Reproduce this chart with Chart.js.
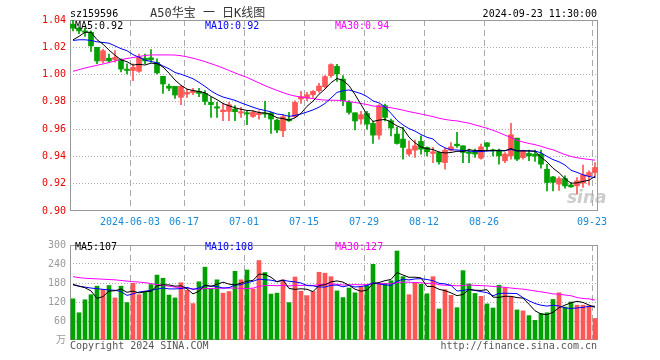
<!DOCTYPE html>
<html><head><meta charset="utf-8">
<script src="https://cdn.jsdelivr.net/npm/chart.js@4.4.1/dist/chart.umd.min.js"></script>
<style>
html,body{margin:0;padding:0;background:#fff;}
#wrap{position:relative;width:660px;height:360px;overflow:hidden;font-family:"DejaVu Sans Mono",monospace;font-size:10px;}
canvas{position:absolute;left:0;}
#c1{top:0;}
#c2{top:235px;}
.t{position:absolute;white-space:pre;line-height:12px;}
</style></head>
<body><div id="wrap">
<canvas id="c1" width="660" height="235"></canvas>
<canvas id="c2" width="660" height="125"></canvas>
<div class="t" style="left:70px;top:8px;color:#000">sz159596</div>
<div class="t" style="left:150px;top:6px;color:#333;font-size:12px;line-height:14px;font-family:'DejaVu Sans Mono','Noto Sans CJK SC',monospace">A50华宝 一 日K线图</div>
<div class="t" style="right:63px;top:8px;color:#000">2024-09-23 11:30:00</div>
<div class="t" style="left:75px;top:20px;color:#000">MA5:0.92</div>
<div class="t" style="left:205px;top:20px;color:#0000ff">MA10:0.92</div>
<div class="t" style="left:335px;top:20px;color:#ff00ff">MA30:0.94</div>
<div class="t" style="left:75px;top:241px;color:#000">MA5:107</div>
<div class="t" style="left:205px;top:241px;color:#0000ff">MA10:108</div>
<div class="t" style="left:335px;top:241px;color:#ff00ff">MA30:127</div>
<div class="t" style="left:567px;top:188px;color:rgba(170,170,170,0.6);font:italic bold 17px 'DejaVu Sans',sans-serif;line-height:18px">sina</div>
<div class="t" style="left:70px;top:340px;color:#555">Copyright 2024 SINA.COM</div>
<div class="t" style="right:63px;top:340px;color:#555">http://finance.sina.com.cn</div>
</div>
<script>
const dates = ['05-20','05-21','05-22','05-23','05-24','05-27','05-28','05-29','05-30','05-31',
'06-03','06-04','06-05','06-06','06-07','06-11','06-12','06-13','06-14','06-17',
'06-18','06-19','06-20','06-21','06-24','06-25','06-26','06-27','06-28','07-01',
'07-02','07-03','07-04','07-05','07-08','07-09','07-10','07-11','07-12','07-15',
'07-16','07-17','07-18','07-19','07-22','07-23','07-24','07-25','07-26','07-29',
'07-30','07-31','08-01','08-02','08-05','08-06','08-07','08-08','08-09','08-12',
'08-13','08-14','08-15','08-16','08-19','08-20','08-21','08-22','08-23','08-26',
'08-27','08-28','08-29','08-30','09-02','09-03','09-04','09-05','09-06','09-09',
'09-10','09-11','09-12','09-13','09-18','09-19','09-20','09-23'];

const tickDates = ['06-03','06-17','07-01','07-15','07-29','08-12','08-26','09-23'];
const tickText  = ['2024-06-03','06-17','07-01','07-15','07-29','08-12','08-26','09-23'];

const open = [1.037,1.034,1.032,1.031,1.020,1.010,1.012,1.011,1.011,1.004,
1.003,1.0024,1.012,1.0123,1.009,0.9987,0.9915,0.9914,0.9833,0.9857,
0.9867,0.9877,0.9862,0.9796,0.9764,0.9728,0.973,0.9747,0.9718,0.972,
0.9693,0.9706,0.9718,0.9718,0.9666,0.9588,0.9674,0.9691,0.9821,0.9828,
0.9852,0.9882,0.9911,0.9992,1.006,0.9967,0.9796,0.972,0.9674,0.9715,
0.9642,0.9556,0.9772,0.9662,0.9564,0.9527,0.9417,0.9446,0.951,0.9466,
0.9422,0.9429,0.9355,0.9446,0.949,0.9478,0.9434,0.9436,0.9387,0.950,
0.9446,0.9446,0.9368,0.9404,0.9534,0.9392,0.9422,0.9417,0.9417,0.9306,
0.925,0.9197,0.9238,0.9191,0.9184,0.9204,0.9257,0.9282];

const high = [1.040,1.035,1.034,1.032,1.020,1.0185,1.015,1.0175,1.0115,1.0078,
1.0078,1.015,1.015,1.0183,1.0115,0.9987,0.9931,0.9914,0.9918,0.9894,
0.990,0.990,0.9882,0.9833,0.9796,0.979,0.9796,0.9772,0.9759,0.9735,
0.9735,0.9735,0.9803,0.9723,0.9674,0.9703,0.9723,0.9808,0.9877,0.987,
0.9882,0.9936,0.9992,1.0078,1.0075,0.9992,0.981,0.972,0.973,0.973,
0.966,0.978,0.9784,0.9674,0.9613,0.9613,0.9515,0.952,0.9551,0.9471,
0.9466,0.9434,0.946,0.9502,0.9576,0.9478,0.9453,0.9453,0.949,0.9502,
0.9453,0.9453,0.9429,0.9642,0.9534,0.9446,0.9446,0.9446,0.9446,0.9343,
0.9255,0.925,0.9258,0.9208,0.9245,0.9336,0.9294,0.9355];

const low = [1.032,1.030,1.028,1.017,1.008,1.0085,1.009,1.009,1.002,1.0004,
0.9955,1.0016,1.008,1.009,1.0004,0.9862,0.9882,0.9825,0.978,0.9833,
0.9852,0.9838,0.978,0.9686,0.9686,0.9662,0.9662,0.9662,0.9686,0.9632,
0.9686,0.9674,0.9686,0.9568,0.9574,0.9544,0.9657,0.9686,0.9789,0.9808,
0.9833,0.987,0.9901,0.998,0.995,0.9772,0.971,0.9595,0.9637,0.960,
0.9495,0.9527,0.966,0.955,0.949,0.938,0.9404,0.9392,0.9417,0.9404,
0.9355,0.9343,0.9306,0.9441,0.9466,0.9355,0.9355,0.9392,0.938,0.9441,
0.9404,0.9343,0.9355,0.938,0.9368,0.938,0.9368,0.9363,0.9314,0.9147,
0.9147,0.915,0.9167,0.9172,0.9123,0.9172,0.919,0.9245];

const close = [1.034,1.032,1.031,1.021,1.010,1.0175,1.010,1.0125,1.004,1.003,
1.0053,1.0127,1.010,1.0108,1.0012,0.9931,0.990,0.985,0.9914,0.987,
0.9882,0.9862,0.9803,0.978,0.9754,0.974,0.9779,0.9728,0.9728,0.9711,
0.9723,0.9718,0.9711,0.9674,0.9593,0.9691,0.9661,0.9796,0.9838,0.9852,
0.9877,0.9916,0.9985,1.0073,1.0005,0.9808,0.9723,0.966,0.9706,0.9637,
0.9556,0.9772,0.9686,0.9608,0.9495,0.9466,0.9453,0.9478,0.9453,0.9434,
0.9434,0.936,0.9446,0.947,0.9478,0.9429,0.9422,0.9417,0.947,0.9473,
0.9441,0.9404,0.9417,0.9559,0.938,0.9441,0.9404,0.9402,0.9343,0.9209,
0.921,0.9238,0.9184,0.9177,0.9221,0.9265,0.9282,0.9319];

// volume, 万手
const volume = [130,86,127,143,170,160,172,133,170,118,
179,143,153,175,205,195,142,133,181,157,
115,184,230,161,190,148,153,217,190,221,
161,251,213,145,148,190,118,199,154,140,
153,214,211,200,155,134,164,149,168,172,
239,179,179,187,281,200,143,181,176,146,
200,98,159,141,102,219,177,147,138,114,
101,173,165,136,95,92,77,62,84,86,
128,149,104,120,110,110,108,68];

// moving-average values before a full window is available
const ma5Lead  = [1.0255,1.028,1.031,1.031];
const ma10Lead = [1.025,1.0255,1.0255,1.025,1.024,1.0235,1.023,1.021,1.019];
const ma30Lead = [1.0024,1.0036,1.0048,1.0058,1.0068,1.0078,1.0088,1.0100,1.0110,1.0118,
1.0125,1.0132,1.0140,1.0144,1.0144,1.0144,1.0144,1.0143,1.0138,1.0130,
1.0120,1.0108,1.0095,1.0080,1.0065,1.0048,1.0030,1.0012,0.9995];
const vma5Lead  = [176,170,165,155];
const vma10Lead = [174,170,167,164,162,160,158,157,153];
const vma30Lead = [200,197,195,194,193,192,191,190,188,186,184,183,181,178,175,172,170,167,165,163,161,161,162,163,163,164,164,164,163];

function movingAvg(arr, n, lead){
  return arr.map((v,i)=>{
    if(i < n-1) return lead[i];
    let s=0; for(let k=i-n+1;k<=i;k++) s+=arr[k];
    return s/n;
  });
}

const RED='#ff5656', GREEN='#00a000';
const colors = open.map((o,i)=> close[i] >= o ? RED : GREEN);
const bodies = open.map((o,i)=>[o, close[i]]);
const wicks  = low.map((l,i)=>[l, high[i]]);

const FONT = {family:"'DejaVu Sans Mono', 'Noto Sans CJK SC', monospace", size:10};
const CLEAR='rgba(0,0,0,0)';

const framePlugin = {id:'frame', beforeDatasetsDraw(ch){
  const a=ch.chartArea, c=ch.ctx; c.save(); c.strokeStyle='#999'; c.lineWidth=1;
  c.strokeRect(a.left+0.5, a.top+0.5, a.right-a.left-1, a.bottom-a.top-1); c.restore();
}};

const xGridColor = c => (c.index!==undefined && tickDates.includes(dates[c.index])) ? '#aaa' : CLEAR;

function lineDs(data,color){
  return {type:'line', data, borderColor:color, borderWidth:1, pointRadius:0, tension:0, fill:false};
}

new Chart(document.getElementById('c1'), {
  type:'bar',
  data:{labels:dates, datasets:[
    lineDs(movingAvg(close,5,ma5Lead),'#000000'),
    lineDs(movingAvg(close,10,ma10Lead),'#0000ff'),
    lineDs(movingAvg(close,30,ma30Lead),'#ff00ff'),
    {type:'bar', data:bodies, backgroundColor:colors, barThickness:5, grouped:false, minBarLength:1},
    {type:'bar', data:wicks, backgroundColor:colors, barThickness:1, grouped:false, minBarLength:1}
  ]},
  options:{
    responsive:false, animation:false, events:[], devicePixelRatio:1,
    layout:{padding:{left:0,right:62,top:20,bottom:0}},
    plugins:{legend:{display:false}, tooltip:{enabled:false}},
    scales:{
      x:{offset:true,
        grid:{offset:true, color:xGridColor, lineWidth:1, drawTicks:false},
        border:{display:false, dash:[6,4]},
        ticks:{autoSkip:false, maxRotation:0, minRotation:0, labelOffset:-3, padding:5, font:FONT, color:'#1a8ad8',
          callback:(v,i)=>{const k=tickDates.indexOf(dates[i]); return k>=0?tickText[k]:'';}},
        afterFit:s=>{s.height=24;}
      },
      y:{min:0.90, max:1.04,
        ticks:{stepSize:0.02, padding:4, font:FONT, color:'#ee0000', callback:v=>Number(v).toFixed(2)},
        grid:{drawTicks:false, lineWidth:1, color:c=>(c.tick && c.tick.value>0.901 && c.tick.value<1.039)?'#aaa':CLEAR},
        border:{display:false, dash:[1,2]},
        afterFit:s=>{s.width=70;}
      }
    }
  },
  plugins:[framePlugin]
});

new Chart(document.getElementById('c2'), {
  type:'bar',
  data:{labels:dates, datasets:[
    lineDs(movingAvg(volume,5,vma5Lead),'#000000'),
    lineDs(movingAvg(volume,10,vma10Lead),'#0000ff'),
    lineDs(movingAvg(volume,30,vma30Lead),'#ff00ff'),
    {type:'bar', data:volume, backgroundColor:colors, barThickness:4, grouped:false}
  ]},
  options:{
    responsive:false, animation:false, events:[], devicePixelRatio:1,
    layout:{padding:{left:0,right:62,top:5,bottom:20}},
    plugins:{legend:{display:false}, tooltip:{enabled:false}},
    scales:{
      x:{offset:true,
        grid:{offset:true, color:xGridColor, lineWidth:1, drawTicks:false},
        border:{display:false, dash:[6,4]},
        ticks:{display:false, autoSkip:false},
        afterFit:s=>{s.height=0;}
      },
      y:{min:0, max:300,
        ticks:{stepSize:60, padding:4, font:FONT, color:'#999', callback:v=> v===0 ? '万' : String(v)},
        grid:{drawTicks:false, lineWidth:1, color:c=>(c.tick && c.tick.value>0 && c.tick.value<300)?'#aaa':CLEAR},
        border:{display:false, dash:[1,2]},
        afterFit:s=>{s.width=70;}
      }
    }
  },
  plugins:[framePlugin]
});
</script>
</body></html>
